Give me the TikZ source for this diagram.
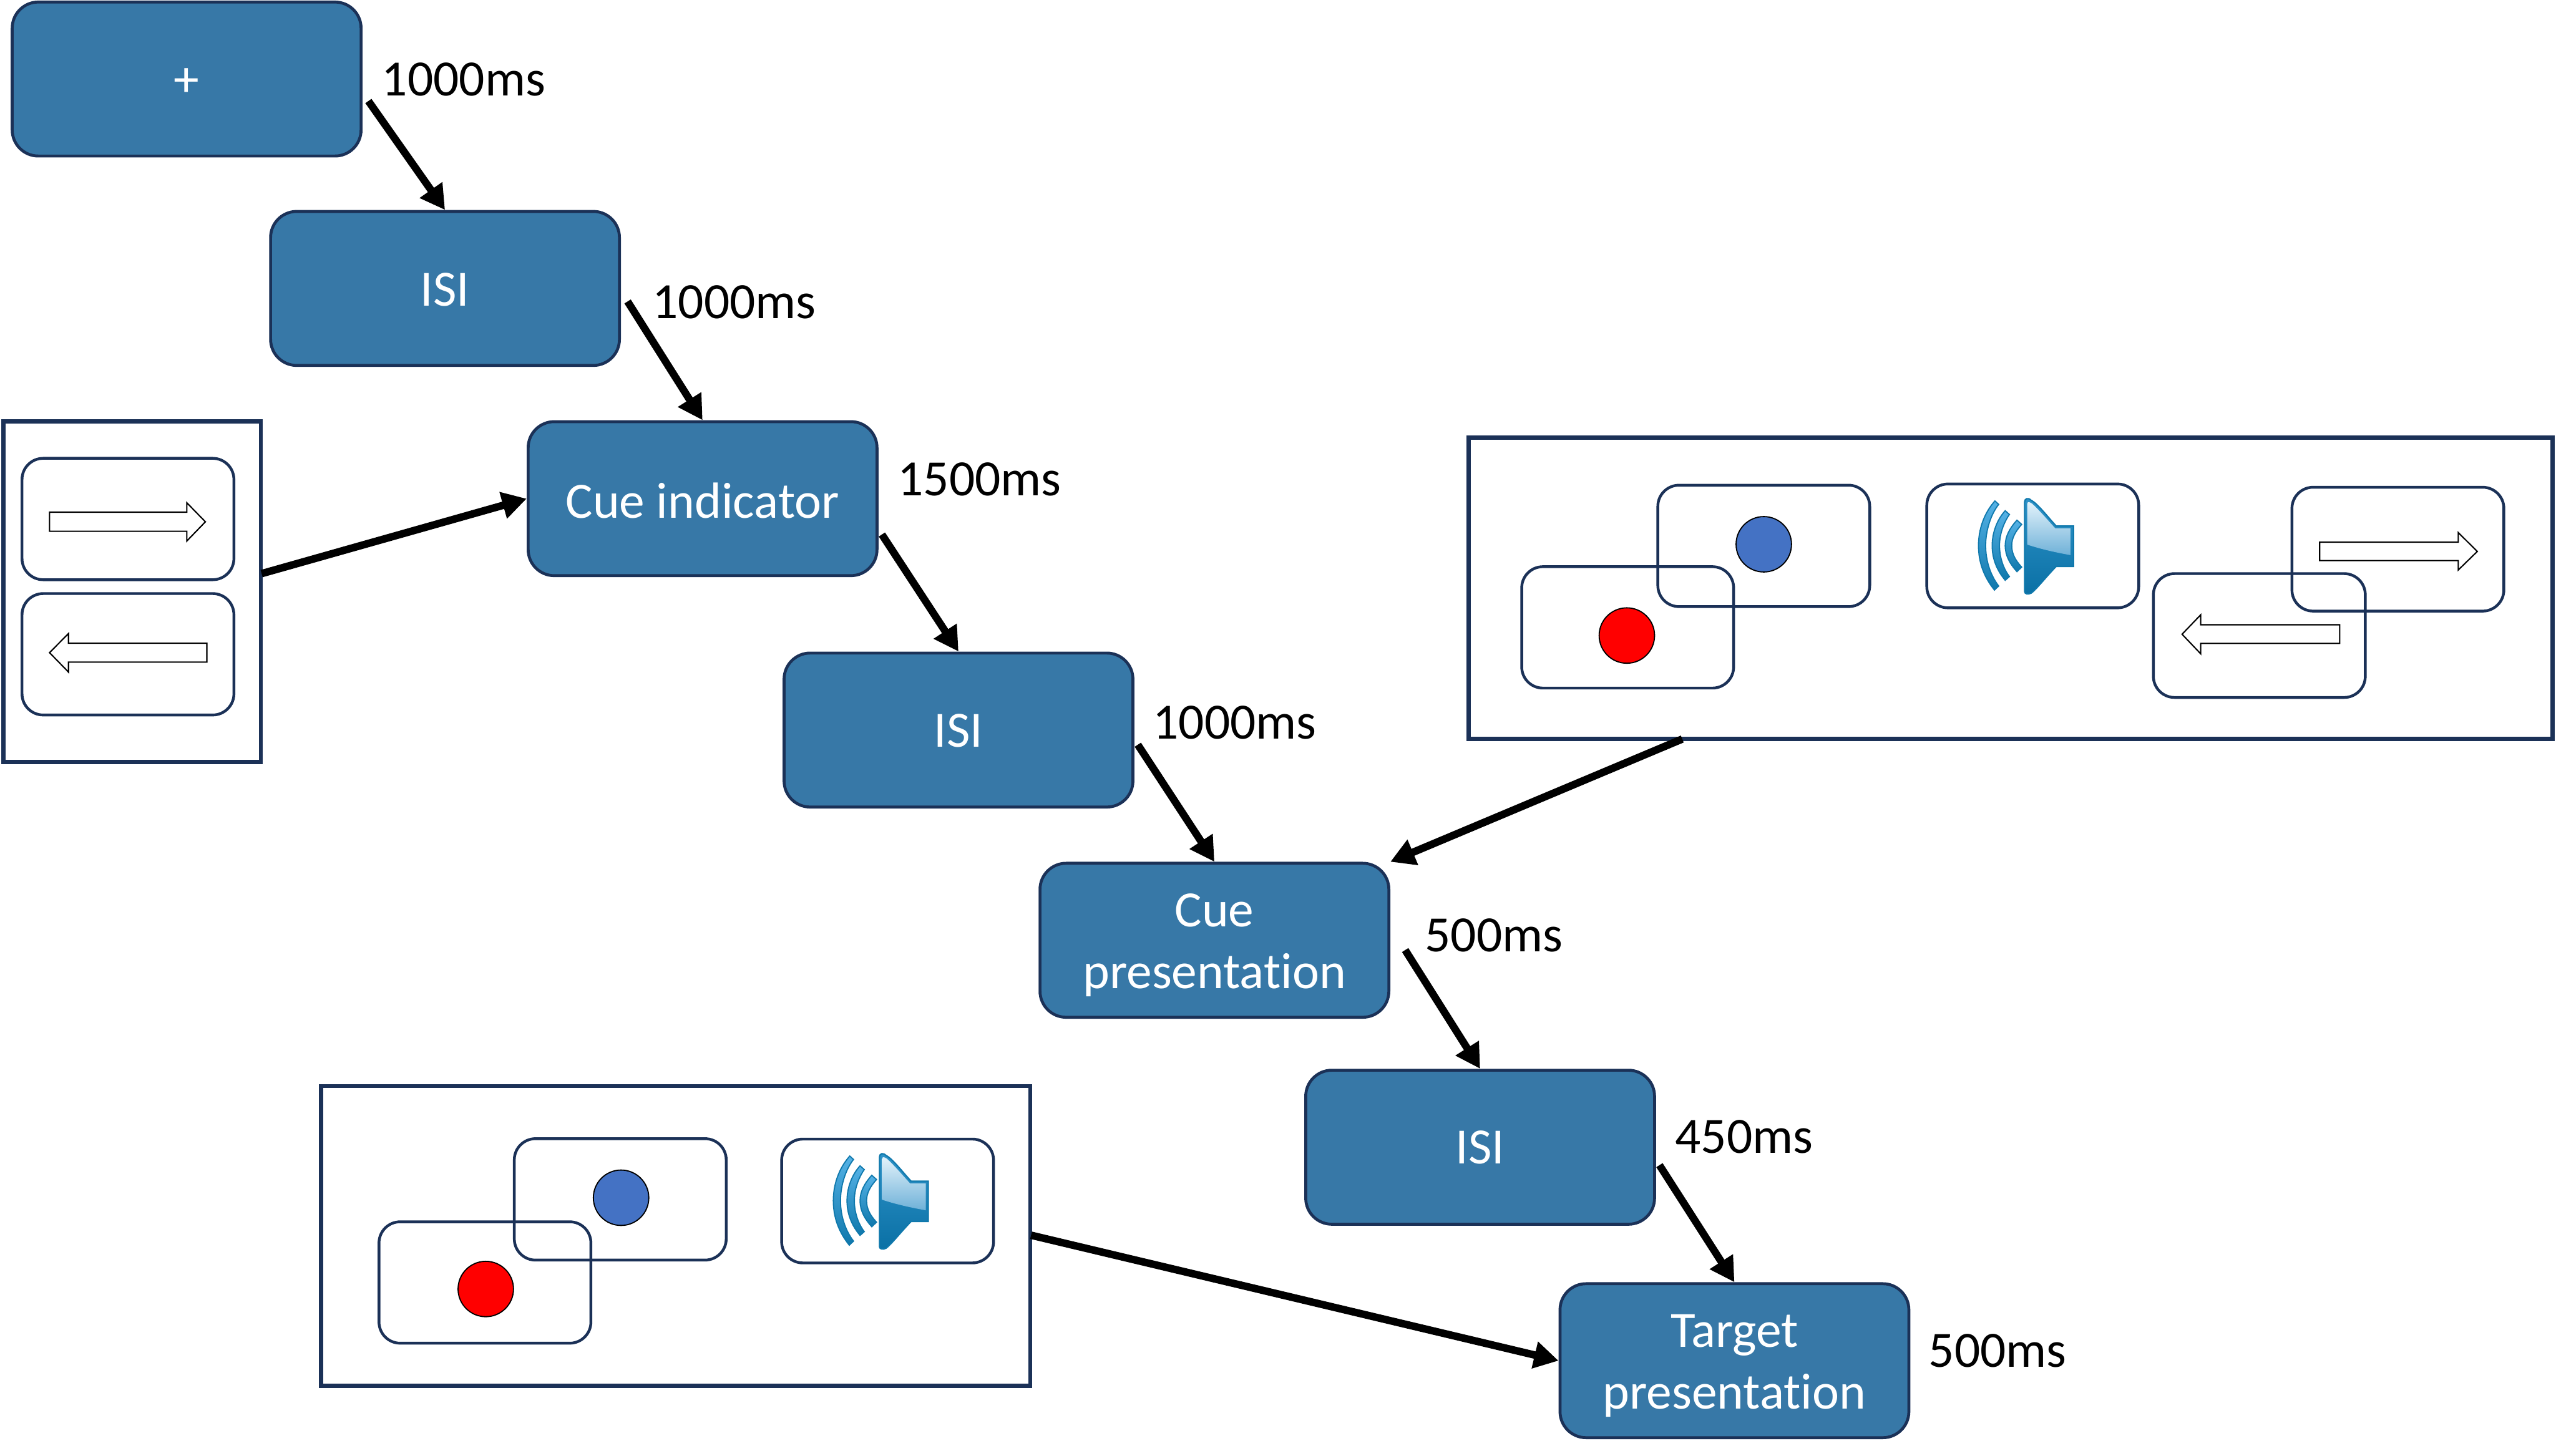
\documentclass[tikz,border=0pt]{standalone}
\usepackage{fontspec}
\setmainfont[Ligatures=NoCommon]{Carlito}
\usetikzlibrary{arrows.meta}
\definecolor{navy}{HTML}{1B3157}
\definecolor{boxblue}{HTML}{3778A7}
\definecolor{spkedge}{HTML}{0F78AC}
\definecolor{spktop}{HTML}{55B2E6}
\definecolor{conetop}{HTML}{2F93C8}
\definecolor{conebot}{HTML}{0A70A5}
\definecolor{glosstop}{HTML}{E4F3FB}
\definecolor{glossbot}{HTML}{6FB1D8}
\definecolor{redspot}{HTML}{FF0000}
\definecolor{bluespot}{HTML}{4472C4}
\newcommand\lift[1]{\rule{0pt}{#1pt}}
\tikzset{
  x=1pt,y=-1pt,
  stage/.style={draw=navy,fill=boxblue,line width=1.8pt,rounded corners=16pt,minimum width=214pt,minimum height=94.5pt,inner sep=0pt,text=white,align=center,font=\fontsize{31.2}{38}\selectfont},
  timing/.style={anchor=west,inner sep=0pt,text=black,font=\fontsize{31.2}{36}\selectfont},
  frame/.style={draw=navy,line width=2.6pt,fill=white,inner sep=0pt,outer sep=0pt,anchor=north west},
  card/.style={draw=navy,line width=1.7pt,rounded corners=13pt,inner sep=0pt,minimum width=130pt,minimum height=74.5pt},
  arr/.style={draw=black,line width=4.6pt,-{Triangle[length=15pt,width=16pt]},shorten >=0pt},
  outlinearrow/.style={draw=black,line width=.8pt,fill=white,line join=miter},
  spot/.style={circle,draw=black,line width=.7pt,inner sep=0pt,minimum size=34pt},
  waveshade/.style={draw=spkedge,line width=.7pt,top color=spktop,bottom color=spkedge},
  speaker/.pic={
    \path[waveshade] (-23.2,-27.6) .. controls (-30,-20) and (-33.3,-10) .. (-33.3,-.2) .. controls (-33.3,10) and (-30,19) .. (-23.5,27.1) -- (-20.9,24.6) .. controls (-26,18) and (-28.9,9) .. (-28.9,-.2) .. controls (-28.9,-9) and (-26,-19) .. (-20.9,-25.5) -- cycle;
    \path[waveshade] (-16.9,-21.6) .. controls (-22,-16) and (-24.9,-8) .. (-24.9,-.2) .. controls (-24.9,8) and (-22,15) .. (-16.9,21.1) -- (-14.3,18.8) .. controls (-18,14) and (-20.4,7) .. (-20.4,-.2) .. controls (-20.4,-7) and (-18,-14) .. (-14.3,-19.3) -- cycle;
    \path[waveshade] (-9.7,-15.8) .. controls (-14,-11) and (-16.9,-6) .. (-16.9,-.2) .. controls (-16.9,6) and (-14,11) .. (-9.7,15.8) -- (-6.8,13) .. controls (-10.5,9) and (-12.9,5) .. (-12.9,-.2) .. controls (-12.9,-5) and (-10.5,-9) .. (-6.8,-13.2) -- cycle;
    \path[draw=spkedge,line width=.8pt,top color=conetop,bottom color=conebot] (-5,-27) .. controls (-5,-29) and (-3,-30) .. (-1,-28) .. controls (3,-26) and (9,-18) .. (14.4,-12.2) -- (25,-12.2) -- (25,12.6) -- (14.4,12.6) .. controls (9,18) and (2,27) .. (-1,29) .. controls (-3,30) and (-5,29.5) .. (-5,28) -- cycle;
    \path[top color=glosstop,bottom color=glossbot,draw=none] (-3.4,-25.6) .. controls (-3.4,-27.5) and (-2,-27) .. (-.5,-26) .. controls (4,-22) and (9,-16) .. (13.8,-10.8) -- (23.4,-10.8) -- (23.4,5.7) .. controls (14,4) and (5,2) .. (-3.4,-.8) -- cycle;
  }
}
\begin{document}
\begin{tikzpicture}
\useasboundingbox (0,0) rectangle (1568,893.2);

% grouped alternatives
\node[frame,minimum width=158pt,minimum height=209pt] (leftframe) at (2,258.5) {};
\node[frame,minimum width=665pt,minimum height=185pt] (rightframe) at (901,268.5) {};
\node[frame,minimum width=435pt,minimum height=184pt] (lowframe) at (197,666.5) {};

% stages
\node[stage] (fix) at (114.5,48.5) {\lift{21}+};
\node[stage] (isia) at (273,177) {\lift{22}ISI};
\node[stage] (cueind) at (431,306) {\lift{24}Cue indicator};
\node[stage] (isib) at (588,448) {\lift{21}ISI};
\node[stage] (cuepres) at (745,577) {\lift{26}Cue\\presentation};
\node[stage] (isic) at (908,704) {ISI};
\node[stage] (target) at (1064,835) {\lift{26}Target\\presentation};

% timings
\node[timing] (t1) at (234,48.7) {1000ms};
\node[timing] (t2) at (400,185.5) {1000ms};
\node[timing] (t3) at (550.5,294) {1500ms};
\node[timing] (t4) at (707,443.5) {1000ms};
\node[timing] (t5) at (874,574) {500ms};
\node[timing] (t6) at (1027.5,697.5) {450ms};
\node[timing] (t7) at (1183,829) {500ms};

% left frame contents
\node[card] (lc1) at (78.5,318.5) {};
\node[card] (lc2) at (78.5,401.5) {};
\path[outlinearrow] (30.4,314.3) -- (114.6,314.3) -- (114.6,308.5) -- (126,320.2) -- (114.6,332) -- (114.6,326) -- (30.4,326) -- cycle;
\path[outlinearrow] (126.9,394.7) -- (42,394.7) -- (42,388.8) -- (30.4,400.5) -- (42,412.4) -- (42,406.3) -- (126.9,406.3) -- cycle;

% right frame contents
\node[card] (rc1) at (1082,335) {};
\node[card] (rc2) at (998.5,385) {};
\node[card,minimum height=76pt] (rc3) at (1247,335) {};
\node[card,minimum height=76pt] (rc4) at (1471,337) {};
\node[card,minimum height=76pt] (rc5) at (1386,390) {};
\node[spot,fill=bluespot] (rb) at (1082,334) {};
\node[spot,fill=redspot] (rr) at (998,390) {};
\pic at (1247,335) {speaker};
\path[outlinearrow] (1423,332.7) -- (1508,332.7) -- (1508,326.8) -- (1519.7,338.4) -- (1508,349.8) -- (1508,344) -- (1423,344) -- cycle;
\path[outlinearrow] (1435.3,383.4) -- (1350,383.4) -- (1350,377.3) -- (1338.6,389.2) -- (1350,401.2) -- (1350,394.8) -- (1435.3,394.8) -- cycle;

% lower frame contents
\node[card] (bc1) at (380.5,736) {};
\node[card] (bc2) at (297.5,787) {};
\node[card,minimum height=76pt] (bc3) at (544.5,737) {};
\node[spot,fill=bluespot] (bb) at (381,735) {};
\node[spot,fill=redspot] (br) at (298,791) {};
\pic at (544.5,737) {speaker};

% connector starts
\coordinate (s1) at (226,62);
\coordinate (s2) at (385,185);
\coordinate (s3) at (541,328);
\coordinate (s4) at (698,457);
\coordinate (s5) at (862,583);
\coordinate (s6) at (1018,715);
\coordinate (sl) at (160.5,352);
\coordinate (sr) at (1032,453.5);
\coordinate (sb) at (632.5,758);

\draw[arr] (s1) -- (isia.north);
\draw[arr] (s2) -- (cueind.north);
\draw[arr] (s3) -- (isib.north);
\draw[arr] (s4) -- (cuepres.north);
\draw[arr] (s5) -- (isic.north);
\draw[arr] (s6) -- (target.north);
\draw[arr] (sl) -- (cueind.west);
\draw[arr] (sr) -- (cuepres.north east);
\draw[arr] (sb) -- (target.west);
\end{tikzpicture}
\end{document}
